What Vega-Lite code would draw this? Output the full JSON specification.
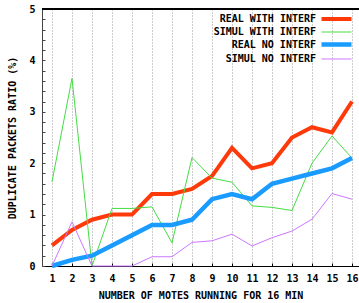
{
  "$schema": "https://vega.github.io/schema/vega-lite/v6.json",
  "width": 317,
  "height": 257,
  "autosize": {"type": "none"},
  "padding": {"left": 42, "top": 9, "right": 0, "bottom": 37},
  "background": "white",
  "config": {"view": {"stroke": null}, "font": "DejaVu Sans Mono"},
  "data": {"values": [
    {"motes": 1, "series": "REAL WITH INTERF", "ratio": 0.4},
    {"motes": 2, "series": "REAL WITH INTERF", "ratio": 0.7},
    {"motes": 3, "series": "REAL WITH INTERF", "ratio": 0.9},
    {"motes": 4, "series": "REAL WITH INTERF", "ratio": 1.0},
    {"motes": 5, "series": "REAL WITH INTERF", "ratio": 1.0},
    {"motes": 6, "series": "REAL WITH INTERF", "ratio": 1.4},
    {"motes": 7, "series": "REAL WITH INTERF", "ratio": 1.4},
    {"motes": 8, "series": "REAL WITH INTERF", "ratio": 1.5},
    {"motes": 9, "series": "REAL WITH INTERF", "ratio": 1.75},
    {"motes": 10, "series": "REAL WITH INTERF", "ratio": 2.3},
    {"motes": 11, "series": "REAL WITH INTERF", "ratio": 1.9},
    {"motes": 12, "series": "REAL WITH INTERF", "ratio": 2.0},
    {"motes": 13, "series": "REAL WITH INTERF", "ratio": 2.5},
    {"motes": 14, "series": "REAL WITH INTERF", "ratio": 2.7},
    {"motes": 15, "series": "REAL WITH INTERF", "ratio": 2.6},
    {"motes": 16, "series": "REAL WITH INTERF", "ratio": 3.2},
    {"motes": 1, "series": "SIMUL WITH INTERF", "ratio": 1.64},
    {"motes": 2, "series": "SIMUL WITH INTERF", "ratio": 3.65},
    {"motes": 3, "series": "SIMUL WITH INTERF", "ratio": 0},
    {"motes": 4, "series": "SIMUL WITH INTERF", "ratio": 1.12},
    {"motes": 5, "series": "SIMUL WITH INTERF", "ratio": 1.12},
    {"motes": 6, "series": "SIMUL WITH INTERF", "ratio": 1.15},
    {"motes": 7, "series": "SIMUL WITH INTERF", "ratio": 0.45},
    {"motes": 8, "series": "SIMUL WITH INTERF", "ratio": 2.11},
    {"motes": 9, "series": "SIMUL WITH INTERF", "ratio": 1.71},
    {"motes": 10, "series": "SIMUL WITH INTERF", "ratio": 1.63},
    {"motes": 11, "series": "SIMUL WITH INTERF", "ratio": 1.17},
    {"motes": 12, "series": "SIMUL WITH INTERF", "ratio": 1.14},
    {"motes": 13, "series": "SIMUL WITH INTERF", "ratio": 1.08},
    {"motes": 14, "series": "SIMUL WITH INTERF", "ratio": 2.0},
    {"motes": 15, "series": "SIMUL WITH INTERF", "ratio": 2.53},
    {"motes": 16, "series": "SIMUL WITH INTERF", "ratio": 2.1},
    {"motes": 1, "series": "REAL NO INTERF", "ratio": 0},
    {"motes": 2, "series": "REAL NO INTERF", "ratio": 0.12},
    {"motes": 3, "series": "REAL NO INTERF", "ratio": 0.2},
    {"motes": 4, "series": "REAL NO INTERF", "ratio": 0.4},
    {"motes": 5, "series": "REAL NO INTERF", "ratio": 0.6},
    {"motes": 6, "series": "REAL NO INTERF", "ratio": 0.8},
    {"motes": 7, "series": "REAL NO INTERF", "ratio": 0.8},
    {"motes": 8, "series": "REAL NO INTERF", "ratio": 0.9},
    {"motes": 9, "series": "REAL NO INTERF", "ratio": 1.3},
    {"motes": 10, "series": "REAL NO INTERF", "ratio": 1.4},
    {"motes": 11, "series": "REAL NO INTERF", "ratio": 1.3},
    {"motes": 12, "series": "REAL NO INTERF", "ratio": 1.6},
    {"motes": 13, "series": "REAL NO INTERF", "ratio": 1.7},
    {"motes": 14, "series": "REAL NO INTERF", "ratio": 1.8},
    {"motes": 15, "series": "REAL NO INTERF", "ratio": 1.9},
    {"motes": 16, "series": "REAL NO INTERF", "ratio": 2.1},
    {"motes": 1, "series": "SIMUL NO INTERF", "ratio": 0},
    {"motes": 2, "series": "SIMUL NO INTERF", "ratio": 0.86},
    {"motes": 3, "series": "SIMUL NO INTERF", "ratio": 0},
    {"motes": 4, "series": "SIMUL NO INTERF", "ratio": 0},
    {"motes": 5, "series": "SIMUL NO INTERF", "ratio": 0},
    {"motes": 6, "series": "SIMUL NO INTERF", "ratio": 0.18},
    {"motes": 7, "series": "SIMUL NO INTERF", "ratio": 0.18},
    {"motes": 8, "series": "SIMUL NO INTERF", "ratio": 0.46},
    {"motes": 9, "series": "SIMUL NO INTERF", "ratio": 0.49},
    {"motes": 10, "series": "SIMUL NO INTERF", "ratio": 0.62},
    {"motes": 11, "series": "SIMUL NO INTERF", "ratio": 0.39},
    {"motes": 12, "series": "SIMUL NO INTERF", "ratio": 0.55},
    {"motes": 13, "series": "SIMUL NO INTERF", "ratio": 0.68},
    {"motes": 14, "series": "SIMUL NO INTERF", "ratio": 0.91},
    {"motes": 15, "series": "SIMUL NO INTERF", "ratio": 1.41},
    {"motes": 16, "series": "SIMUL NO INTERF", "ratio": 1.3}
  ]},
  "resolve": {"axis": {"y": "independent"}},
  "layer": [
    {
      "mark": {"type": "line"},
      "encoding": {
        "x": {
          "field": "motes", "type": "quantitative",
          "scale": {"domain": [0.5, 16.35], "nice": false, "zero": false},
          "axis": {
            "values": [1,2,3,4,5,6,7,8,9,10,11,12,13,14,15,16],
            "title": "NUMBER OF MOTES RUNNING FOR 16 MIN",
            "grid": true, "gridDash": [1, 2], "gridColor": "#999999", "gridOpacity": 1,
            "tickSize": -3, "tickColor": "black", "domainColor": "black",
            "labelFont": "DejaVu Sans Mono", "labelFontWeight": "bold", "labelFontSize": 10, "labelColor": "black",
            "labelPadding": 10, "labelOverlap": false, "labelFlush": false,
            "titleFont": "DejaVu Sans Mono", "titleFontSize": 10, "titleFontWeight": "bold", "titleColor": "black",
            "titleY": 29, "titleBaseline": "middle"
          }
        },
        "y": {
          "field": "ratio", "type": "quantitative",
          "scale": {"domain": [0, 5], "nice": false},
          "axis": {
            "orient": "left",
            "values": [0, 1, 2, 3, 4, 5],
            "labelOverlap": false, "labelFlush": false,
            "title": "DUPLICATE PACKETS RATIO (%)",
            "grid": false,
            "tickSize": -3, "tickColor": "#444444", "domainColor": "#444444",
            "labelFont": "DejaVu Sans Mono", "labelFontWeight": "bold", "labelFontSize": 10, "labelColor": "black",
            "labelPadding": 10,
            "titleFont": "DejaVu Sans Mono", "titleFontSize": 10, "titleFontWeight": "bold", "titleColor": "black",
            "titleX": -30, "titleY": 128.5, "titleBaseline": "middle"
          }
        },
        "color": {
          "field": "series", "type": "nominal",
          "scale": {
            "domain": ["REAL WITH INTERF", "SIMUL WITH INTERF", "REAL NO INTERF", "SIMUL NO INTERF"],
            "range": ["#ff3a0a", "#44dd44", "#1a9bff", "#cc77ff"]
          },
          "legend": {
            "title": " ", "titleFontSize": 1, "titlePadding": 5,
            "orient": "top-right", "offset": -2,
            "symbolType": "M-3.75,0H3.75", "symbolSize": 64,
            "labelAlign": "right", "labelOffset": -27,
            "labelFont": "DejaVu Sans Mono", "labelFontWeight": "bold", "labelFontSize": 10, "labelColor": "black",
            "rowPadding": -2, "padding": 0
          }
        },
        "strokeWidth": {
          "field": "series", "type": "nominal",
          "scale": {
            "type": "ordinal",
            "domain": ["REAL WITH INTERF", "SIMUL WITH INTERF", "REAL NO INTERF", "SIMUL NO INTERF"],
            "range": [4, 1, 4.5, 1]
          }
        }
      }
    },
    {
      "mark": {"type": "rule", "color": "black", "strokeWidth": 1},
      "encoding": {
        "y": {
          "datum": 5,
          "axis": {
            "orient": "left",
            "values": [0.2,0.4,0.6,0.8,1.2,1.4,1.6,1.8,2.2,2.4,2.6,2.8,3.2,3.4,3.6,3.8,4.2,4.4,4.6,4.8],
            "labels": false, "domain": false, "grid": false, "title": null,
            "tickSize": -3, "tickColor": "#444444"
          }
        }
      }
    }
  ]
}
